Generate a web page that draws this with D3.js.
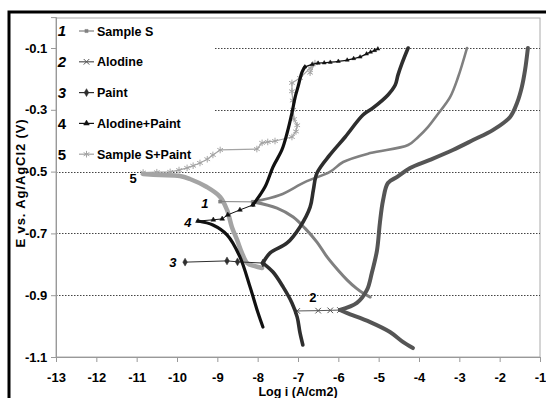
<!DOCTYPE html>
<html>
<head>
<meta charset="utf-8">
<script src="https://cdn.jsdelivr.net/npm/d3@7/dist/d3.min.js"></script>
<style>
body{margin:0;background:#fff;}
text{font-family:"Liberation Sans",Arial,sans-serif;font-weight:bold;fill:#000;}
.axis text{font-family:"Liberation Sans Narrow","Liberation Sans",Arial,sans-serif;font-size:13px;font-weight:bold;}
</style>
</head>
<body>
<svg class="chart" width="546" height="398"></svg>
<script>
// tick values
var xTicks = [-13,-12,-11,-10,-9,-8,-7,-6,-5,-4,-3,-2,-1];
var yTicks = [-1.1,-0.9,-0.7,-0.5,-0.3,-0.1];
var gridTicks = [-0.9,-0.7,-0.5,-0.3,-0.1];

var seriesNames = ["Sample S","Alodine","Paint","Alodine+Paint","Sample S+Paint"];

// [log i, E]
// 1 Sample S
var sampleSSpike = [[-8.93,-0.597],[-8.12,-0.598]];
var sampleSCath = [[-8.12,-0.598],[-7.52,-0.618],[-7.12,-0.647],[-6.83,-0.683],[-6.53,-0.728],[-6.28,-0.776],[-6.0,-0.82],[-5.78,-0.851],[-5.55,-0.878],[-5.39,-0.893],[-5.21,-0.906]];
var sampleSAnod = [[-8.12,-0.598],[-7.45,-0.576],[-6.83,-0.534],[-6.21,-0.501],[-5.88,-0.469],[-5.21,-0.44],[-4.27,-0.414],[-4.02,-0.388],[-3.78,-0.356],[-3.55,-0.317],[-3.23,-0.259],[-3.03,-0.194],[-2.81,-0.1]];

// 2 Alodine
var alodineSpike = [[-7.02,-0.951],[-6.5,-0.95],[-6.2,-0.949],[-5.96,-0.948]];
var alodineAnod = [[-5.96,-0.948],[-5.54,-0.925],[-5.29,-0.883],[-5.17,-0.828],[-5.04,-0.754],[-4.97,-0.666],[-4.89,-0.592],[-4.77,-0.537],[-4.54,-0.517],[-4.22,-0.488],[-3.73,-0.462],[-3.16,-0.43],[-2.66,-0.398],[-2.16,-0.365],[-1.74,-0.323],[-1.57,-0.278],[-1.45,-0.226],[-1.37,-0.171],[-1.3,-0.1]];
var alodineCath = [[-5.96,-0.948],[-5.78,-0.958],[-5.21,-0.987],[-4.72,-1.019],[-4.4,-1.051],[-4.15,-1.071]];

// 3 Paint
var paintSpike = [[-9.8,-0.793],[-8.76,-0.789],[-8.5,-0.792],[-7.87,-0.796]];
var paintAnod = [[-7.87,-0.796],[-7.69,-0.763],[-7.27,-0.731],[-6.95,-0.679],[-6.7,-0.615],[-6.62,-0.56],[-6.53,-0.505],[-6.21,-0.446],[-5.83,-0.388],[-5.39,-0.317],[-5.14,-0.294],[-4.77,-0.252],[-4.59,-0.22],[-4.52,-0.187],[-4.42,-0.149],[-4.27,-0.1]];
var paintCath = [[-7.87,-0.796],[-7.62,-0.825],[-7.37,-0.873],[-7.15,-0.925],[-7.02,-0.971],[-6.95,-1.022],[-6.88,-1.061]];

// 4 Alodine+Paint
var alodinePaintCath = [[-9.48,-0.66],[-9.11,-0.673],[-8.76,-0.705],[-8.44,-0.776],[-8.19,-0.873],[-7.99,-0.958],[-7.87,-1.003]];
var alodinePaintSpike = [[-9.48,-0.66],[-9.1,-0.656],[-8.88,-0.653],[-8.74,-0.64],[-8.44,-0.624],[-8.12,-0.608]];
var alodinePaintAnod = [[-8.12,-0.608],[-7.82,-0.55],[-7.62,-0.485],[-7.4,-0.43],[-7.27,-0.375],[-7.15,-0.31],[-7.07,-0.259],[-7.0,-0.226],[-6.9,-0.178],[-6.83,-0.161]];
var alodinePaintTail = [[-6.83,-0.161],[-6.65,-0.153],[-6.5,-0.149],[-6.35,-0.148],[-6.2,-0.146],[-6.0,-0.143],[-5.78,-0.139],[-5.62,-0.134],[-5.46,-0.129],[-5.3,-0.119],[-5.2,-0.113],[-5.1,-0.108],[-5.02,-0.103]];

// 5 Sample S+Paint
var sampleSPaintAnod = [[-10.84,-0.503],[-10.5,-0.502],[-10.17,-0.501],[-9.95,-0.495],[-9.75,-0.488],[-9.6,-0.481],[-9.43,-0.472],[-9.25,-0.46],[-9.11,-0.446],[-8.93,-0.43],[-8.02,-0.427],[-7.89,-0.407],[-7.75,-0.404],[-7.57,-0.401],[-7.15,-0.388],[-7.05,-0.37],[-7.02,-0.35],[-7.1,-0.33],[-7.12,-0.3],[-7.13,-0.27],[-7.15,-0.24],[-7.15,-0.213],[-6.95,-0.197],[-6.7,-0.165],[-6.58,-0.149],[-6.7,-0.18]];
var sampleSPaintCath = [[-10.84,-0.508],[-10.42,-0.511],[-9.93,-0.514],[-9.68,-0.524],[-9.26,-0.55],[-8.93,-0.582],[-8.76,-0.624],[-8.64,-0.679],[-8.51,-0.721],[-8.39,-0.763],[-8.26,-0.796],[-8.07,-0.806],[-7.89,-0.812]];

// curve number labels [text, log i, E]
var curveLabels = [["1",-9.31,-0.602],["2",-6.63,-0.906],["3",-10.1,-0.793],["4",-9.73,-0.663],["5",-11.09,-0.521]];

var svg = d3.select(".chart");

var x = d3.scaleLinear().domain([-13,-1]).range([56, 540]);
var y = d3.scaleLinear().domain([-1.1,0]).range([357, 17.1]);

// outer frame
svg.append("rect")
    .attr("x", 9).attr("y", 12)
    .attr("width", 700).attr("height", 700)
    .attr("fill", "none").attr("stroke", "#000").attr("stroke-width", 3);

// plot border
svg.append("rect")
    .attr("x", x(-13)).attr("y", 18)
    .attr("width", x(-1) - x(-13)).attr("height", y(-1.1) - 18)
    .attr("fill", "none").attr("stroke", "#aaa").attr("stroke-width", 1);

// dotted grid
svg.selectAll(".grid")
    .data(gridTicks)
    .enter().append("line")
    .attr("class", "grid")
    .attr("x1", x(-13)).attr("x2", x(-1))
    .attr("y1", function(d){ return Math.round(y(d)) + 0.5; })
    .attr("y2", function(d){ return Math.round(y(d)) + 0.5; })
    .attr("stroke", "#444").attr("stroke-width", 1)
    .attr("stroke-dasharray", "1.5,1.5");

// legend background hides the grid
svg.append("rect")
    .attr("x", x(-13) + 1).attr("y", 19)
    .attr("width", 158).attr("height", 144)
    .attr("fill", "#fff");

// axes
var xAxis = d3.axisBottom(x).tickValues(xTicks).tickSize(5).tickFormat(function(d){ return "" + d; });
var yAxis = d3.axisLeft(y).tickValues(yTicks).tickSize(5).tickFormat(function(d){ return d.toFixed(1); });

var gx = svg.append("g").attr("class", "x axis")
    .attr("transform", "translate(0," + y(-1.1) + ")")
    .call(xAxis);
gx.selectAll("text").attr("dy", "1.3em");

var gy = svg.append("g").attr("class", "y axis")
    .attr("transform", "translate(" + x(-13) + ",0)")
    .call(yAxis);
gy.selectAll("text").attr("dx", "-0.05em");

svg.selectAll(".axis path, .axis line").attr("stroke", "#999");

// axis titles
svg.append("text")
    .attr("x", 298).attr("y", 396)
    .attr("text-anchor", "middle")
    .style("font-size", "12.5px")
    .text("Log i (A/cm2)");

svg.append("text")
    .attr("transform", "translate(25,183) rotate(-90)")
    .attr("text-anchor", "middle")
    .style("font-size", "13px")
    .style("letter-spacing", "0.9px")
    .text("E vs. Ag/AgCl2 (V)");

// curves
var line = d3.line()
    .x(function(d){ return x(d[0]); })
    .y(function(d){ return y(d[1]); });
var smooth = d3.line()
    .curve(d3.curveCatmullRom.alpha(0.5))
    .x(function(d){ return x(d[0]); })
    .y(function(d){ return y(d[1]); });

var symX = d3.symbolX || d3.symbolCross;
var symStar = d3.symbolAsterisk || d3.symbolStar;
var styles = [
  {color: "#808080", sym: d3.symbolSquare, size: 10, fill: true},
  {color: "#555555", sym: symX, size: 22, fill: false},
  {color: "#2e2e2e", sym: d3.symbolDiamond, size: 18, fill: true},
  {color: "#111111", sym: d3.symbolTriangle, size: 14, fill: true},
  {color: "#a4a4a4", sym: symStar, size: 30, fill: false}
];

function drawPath(data, s, w, curved) {
  svg.append("path")
    .datum(data)
    .attr("fill", "none")
    .attr("stroke", s.color)
    .attr("stroke-width", w)
    .attr("stroke-linejoin", "round")
    .attr("stroke-linecap", "round")
    .attr("d", curved ? smooth : line);
}
function drawMarks(data, s, size) {
  svg.selectAll(null)
    .data(data)
    .enter().append("path")
    .attr("transform", function(d){ return "translate(" + x(d[0]) + "," + y(d[1]) + ")"; })
    .attr("d", d3.symbol().type(s.sym).size(size || s.size))
    .attr("fill", s.fill ? s.color : "none")
    .attr("stroke", s.color)
    .attr("stroke-width", s.fill ? 0.5 : 1);
}

// 5 Sample S+Paint
drawPath(sampleSPaintCath, styles[4], 4.5, true);
drawPath(sampleSPaintAnod, styles[4], 1.2, false);
drawMarks(sampleSPaintAnod, styles[4]);

// 1 Sample S
drawPath(sampleSSpike, styles[0], 1, false);
drawMarks(sampleSSpike, styles[0]);
drawPath(sampleSCath, styles[0], 3, true);
drawPath(sampleSAnod, styles[0], 2.6, true);

// 2 Alodine
drawPath(alodineSpike, styles[1], 1, false);
drawMarks(alodineSpike, styles[1]);
drawPath(alodineCath, styles[1], 4, true);
drawPath(alodineAnod, styles[1], 4, true);

// 3 Paint
drawPath(paintSpike, styles[2], 1, false);
drawMarks(paintSpike, styles[2]);
drawPath(paintCath, styles[2], 3.6, true);
drawPath(paintAnod, styles[2], 3.6, true);

// 4 Alodine+Paint
drawPath(alodinePaintSpike, styles[3], 1, false);
drawMarks(alodinePaintSpike, styles[3], 10);
drawPath(alodinePaintCath, styles[3], 3.2, true);
drawPath(alodinePaintAnod, styles[3], 3.2, true);
drawPath(alodinePaintTail, styles[3], 1.3, true);
drawMarks(alodinePaintTail, styles[3], 7);

// curve numbers
svg.selectAll(".clabel")
    .data(curveLabels)
    .enter().append("text")
    .attr("class", "clabel")
    .attr("x", function(d){ return x(d[1]); })
    .attr("y", function(d){ return y(d[2]); })
    .attr("dy", "0.36em")
    .attr("text-anchor", "middle")
    .style("font-size", "13px")
    .style("font-style", function(d){ return (d[0] == "2" || d[0] == "5") ? "normal" : "italic"; })
    .text(function(d){ return d[0]; });

// legend
var leg = svg.selectAll(".legend")
    .data(seriesNames)
    .enter().append("g")
    .attr("class", "legend")
    .attr("transform", function(d, i){ return "translate(0," + (31 + i * 30.8) + ")"; });

leg.append("text")
    .attr("x", 62).attr("dy", "0.36em")
    .attr("text-anchor", "middle")
    .style("font-size", "15px")
    .style("font-style", function(d, i){ return i < 3 ? "italic" : "normal"; })
    .text(function(d, i){ return i + 1; });

leg.append("line")
    .attr("x1", 79).attr("x2", 94)
    .attr("stroke", function(d, i){ return styles[i].color; })
    .attr("stroke-width", 1.2);

leg.append("path")
    .attr("transform", "translate(86.5,0)")
    .attr("d", function(d, i){ return d3.symbol().type(styles[i].sym).size(styles[i].size)(); })
    .attr("fill", function(d, i){ return styles[i].fill ? styles[i].color : "none"; })
    .attr("stroke", function(d, i){ return styles[i].color; })
    .attr("stroke-width", function(d, i){ return styles[i].fill ? 0.5 : 1; });

leg.append("text")
    .attr("x", 97).attr("dy", "0.36em")
    .style("font-size", "12.5px")
    .text(function(d){ return d; });
</script>
</body>
</html>
